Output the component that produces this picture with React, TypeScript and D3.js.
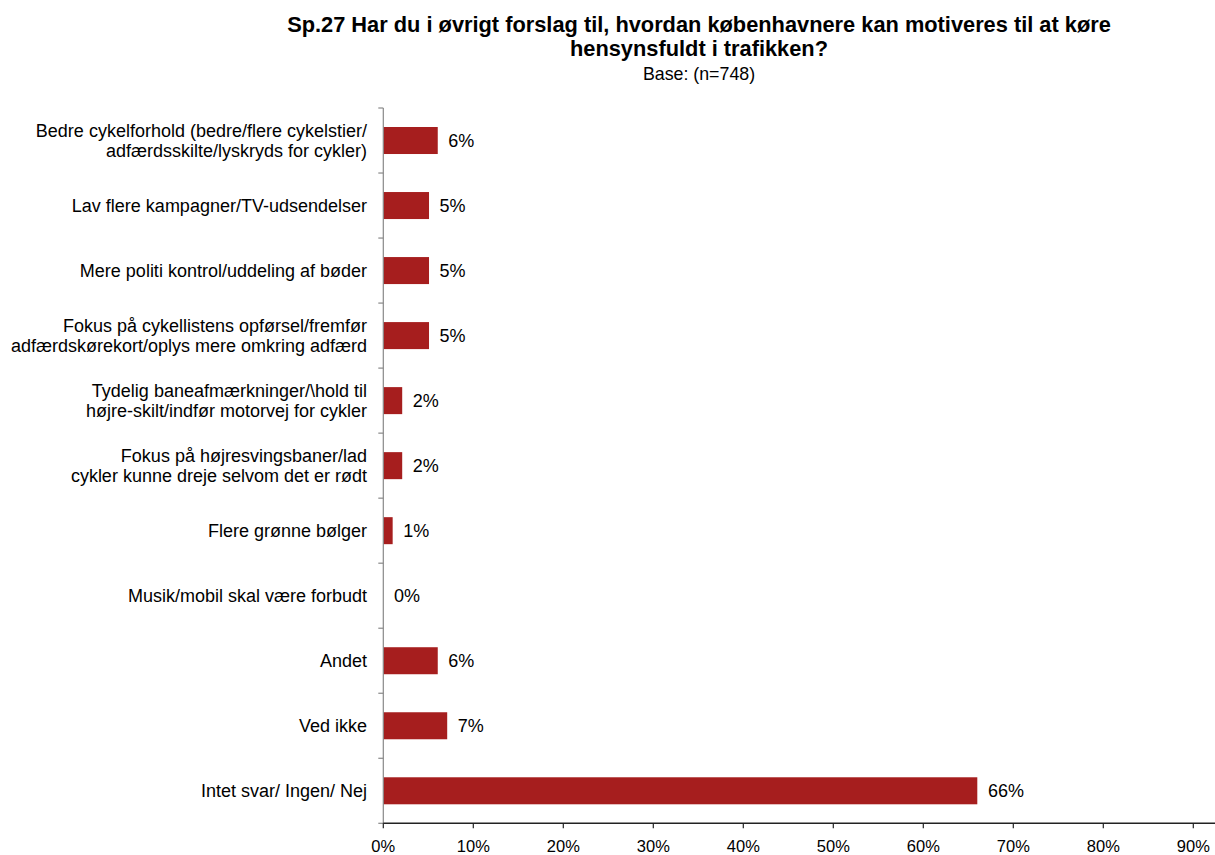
import React from "react";
import * as d3 from "d3";

const categories: string[][] = [
  ["Bedre cykelforhold (bedre/flere cykelstier/", "adfærdsskilte/lyskryds for cykler)"],
  ["Lav flere kampagner/TV-udsendelser"],
  ["Mere politi kontrol/uddeling af bøder"],
  ["Fokus på cykellistens opførsel/fremfør", "adfærdskørekort/oplys mere omkring adfærd"],
  ["Tydelig baneafmærkninger/\\hold til", "højre-skilt/indfør motorvej for cykler"],
  ["Fokus på højresvingsbaner/lad", "cykler kunne dreje selvom det er rødt"],
  ["Flere grønne bølger"],
  ["Musik/mobil skal være forbudt"],
  ["Andet"],
  ["Ved ikke"],
  ["Intet svar/ Ingen/ Nej"],
];
const values: number[] = [6.05, 5.08, 5.08, 5.08, 2.1, 2.1, 1.04, 0, 6.05, 7.1, 66.0];
const valueLabels: string[] = ["6%", "5%", "5%", "5%", "2%", "2%", "1%", "0%", "6%", "7%", "66%"];
const xTicks: number[] = [0, 10, 20, 30, 40, 50, 60, 70, 80, 90];

const titleLines = [
  "Sp.27 Har du i øvrigt forslag til, hvordan københavnere kan motiveres til at køre",
  "hensynsfuldt i trafikken?",
];
const subtitle = "Base: (n=748)";

export default function App() {
  const W = 1215, H = 855;
  const left = 383.3, top = 108, bottom = 823.3;
  const x = d3.scaleLinear().domain([0, 10]).range([left, left + 90]);
  const y = d3.scaleBand<number>().domain(d3.range(categories.length)).range([top, bottom]).paddingInner(0.5846).paddingOuter(0.2923);
  const font = "Arial, 'Liberation Sans', Helvetica, sans-serif";
  const band = (bottom - top) / categories.length;
  return (
    <svg width={W} height={H} style={{ position: "absolute", left: 0, top: 0, background: "#fff" }} fontFamily={font}>
      {titleLines.map((t, i) => (
        <text key={i} x={699} y={31.5 + i * 24} textAnchor="middle" fontWeight="bold" fontSize={21.8} fill="#000">{t}</text>
      ))}
      <text x={699} y={80} textAnchor="middle" fontSize={17.8} fill="#000">{subtitle}</text>
      {values.map((v, i) => (
        <rect key={i} x={x(0)} y={(y(i) as number)} width={x(v) - x(0)} height={y.bandwidth()} fill="#A61E1E" />
      ))}
      {values.map((v, i) => (
        <text key={i} x={x(v) + 10.6} y={(y(i) as number) + y.bandwidth() / 2 + 6.3} fontSize={18} fill="#000">{valueLabels[i]}</text>
      ))}
      <line x1={left} x2={left} y1={top} y2={bottom} stroke="#888" strokeWidth={1.2} />
      {d3.range(categories.length + 1).map((i) => (
        <line key={i} x1={left - 5} x2={left} y1={top + i * band} y2={top + i * band} stroke="#888" strokeWidth={1.2} />
      ))}
      {categories.map((lines, i) => {
        const cy = (y(i) as number) + y.bandwidth() / 2;
        const n = lines.length;
        return lines.map((l, j) => (
          <text key={i + "-" + j} x={367} y={cy + (j - (n - 1) / 2) * 20 + 6.3} textAnchor="end" fontSize={18} fill="#000">{l}</text>
        ));
      })}
      <line x1={left} x2={W} y1={bottom} y2={bottom} stroke="#222" strokeWidth={1.5} />
      {xTicks.map((t) => (
        <g key={t}>
          <line x1={x(t)} x2={x(t)} y1={bottom} y2={bottom + 5} stroke="#222" strokeWidth={1.2} />
          <text x={x(t)} y={851.5} textAnchor="middle" fontSize={16.5} fill="#000">{t}%</text>
        </g>
      ))}
    </svg>
  );
}
